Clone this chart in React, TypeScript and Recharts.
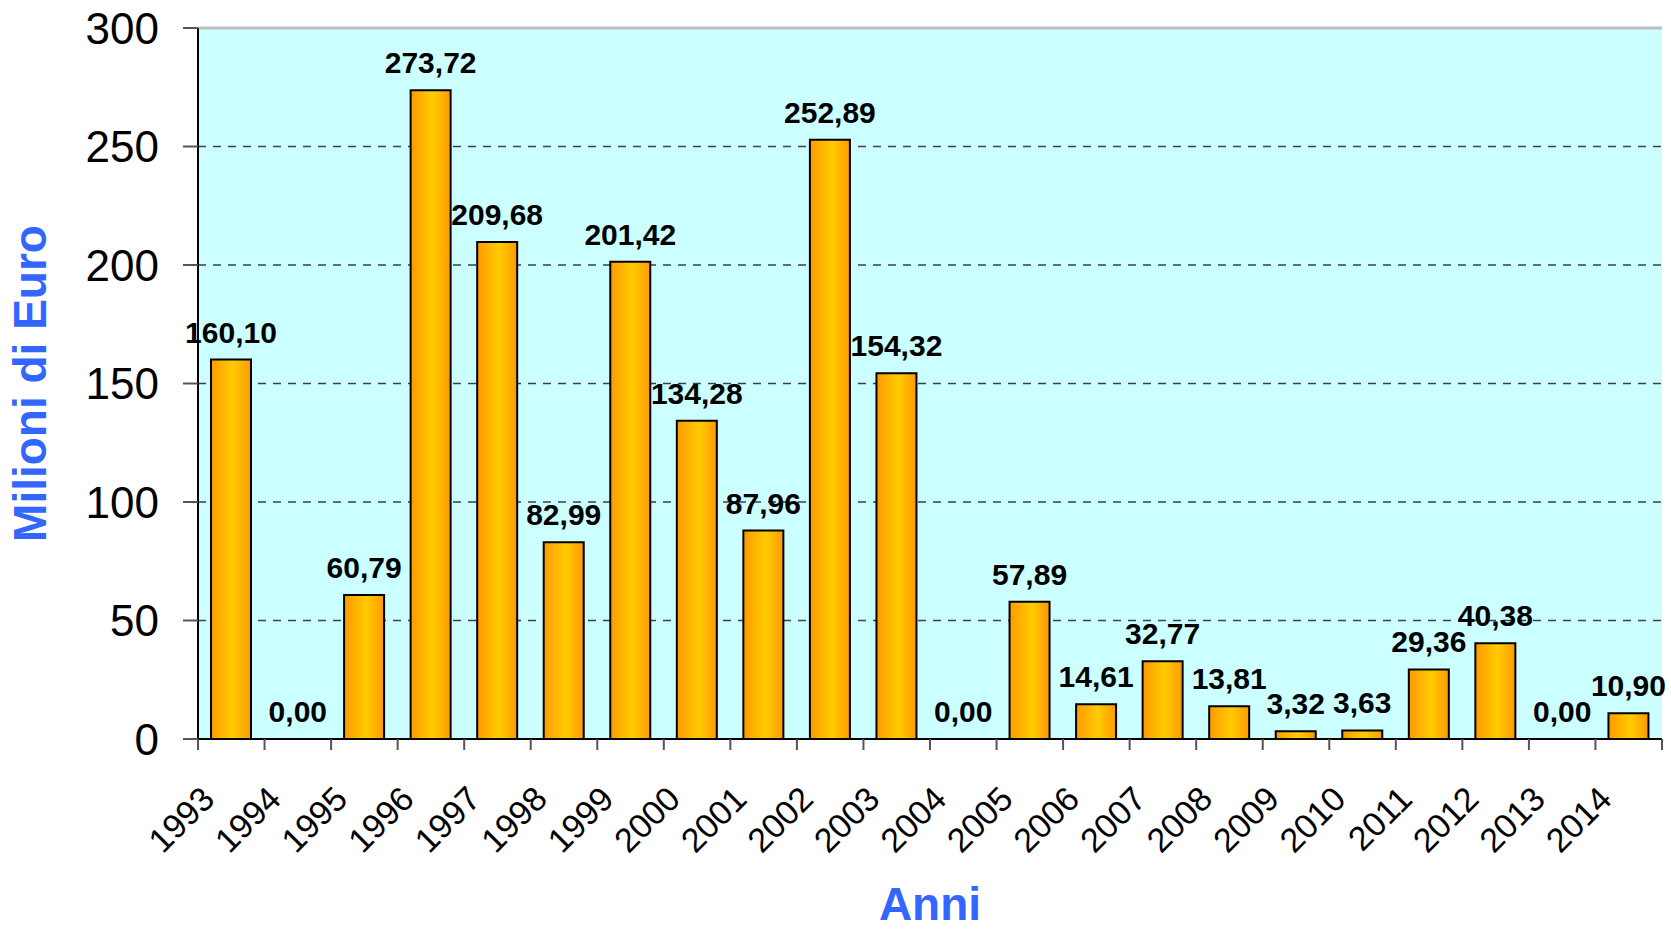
import React from 'react';
import {
  Bar,
  BarChart,
  CartesianGrid,
  LabelList,
  ReferenceDot,
  ReferenceLine,
  XAxis,
  YAxis,
} from 'recharts';

document.body.style.margin = '0';

const years = [
  '1993', '1994', '1995', '1996', '1997', '1998', '1999', '2000', '2001', '2002', '2003',
  '2004', '2005', '2006', '2007', '2008', '2009', '2010', '2011', '2012', '2013', '2014',
];
const values = [
  160.1, 0, 60.79, 273.72, 209.68, 82.99, 201.42, 134.28, 87.96, 252.89, 154.32,
  0, 57.89, 14.61, 32.77, 13.81, 3.32, 3.63, 29.36, 40.38, 0, 10.9,
];
const yTicks = [0, 50, 100, 150, 200, 250, 300];
const gridValues = [50, 100, 150, 200, 250];

const data = years.map((year, i) => ({ year, value: values[i] }));
// recharts skips labels on zero-height bars, so those get a reference dot label
const zeroYears = data.filter((d) => d.value === 0);

const FONT = '"Liberation Sans", Arial, sans-serif';
const BLUE = '#3366FF';
const labelStyle = { fontFamily: FONT, fontWeight: 'bold', fontSize: 30, fill: '#000' };

const formatValue = (v: number) => v.toFixed(2).replace('.', ',');

function YearTick(props: any) {
  const { x, y, payload, index, visibleTicksCount, width } = props;
  const half = payload?.offset ?? width / visibleTicksCount / 2;
  const isLast = index === visibleTicksCount - 1;
  const lx = x - 15;
  const ly = y + 62;
  return (
    <g>
      <line x1={x - half} y1={y} x2={x - half} y2={y + 11} stroke="#555" strokeWidth={2} />
      {isLast && <line x1={x + half} y1={y} x2={x + half} y2={y + 11} stroke="#555" strokeWidth={2} />}
      <text
        x={lx}
        y={ly}
        textAnchor="end"
        transform={`rotate(-45, ${lx}, ${ly})`}
        fontFamily={FONT}
        fontSize={34}
        fill="#000"
      >
        {payload.value}
      </text>
    </g>
  );
}

export default function App() {
  return (
    <div style={{ width: 1671, height: 930, background: '#fff' }}>
      <BarChart
        width={1671}
        height={930}
        data={data}
        margin={{ top: 28, right: 9, left: 0, bottom: 0 }}
        barCategoryGap="38%"
      >
        <defs>
          <linearGradient id="barFill" x1="0" y1="0" x2="1" y2="0">
            <stop offset="0%" stopColor="#FF9900" />
            <stop offset="55%" stopColor="#FFCC00" />
            <stop offset="100%" stopColor="#FF9900" />
          </linearGradient>
        </defs>
        <CartesianGrid
          vertical={false}
          horizontalValues={gridValues}
          fill="#CCFFFF"
          fillOpacity={1}
          stroke="#404040"
          strokeWidth={1.5}
          strokeDasharray="8 7"
        />
        <XAxis
          dataKey="year"
          height={191}
          interval={0}
          tickSize={0}
          tickMargin={0}
          tickLine={false}
          axisLine={{ stroke: '#000', strokeWidth: 2 }}
          tick={<YearTick />}
          label={{
            content: ({ viewBox }: any) => (
              <text
                x={viewBox.x + viewBox.width / 2}
                y={viewBox.y + 181}
                textAnchor="middle"
                fontFamily={FONT}
                fontWeight="bold"
                fontSize={46}
                fill={BLUE}
              >
                Anni
              </text>
            ),
          }}
        />
        <YAxis
          width={198}
          domain={[0, 300]}
          ticks={yTicks}
          interval={0}
          tickSize={15}
          tickMargin={24}
          tick={{ fontFamily: FONT, fontSize: 44, fill: '#000' }}
          tickLine={{ stroke: '#555', strokeWidth: 2 }}
          axisLine={{ stroke: '#000', strokeWidth: 2 }}
          label={{
            content: ({ viewBox }: any) => {
              const cx = 46;
              const cy = viewBox.y + viewBox.height / 2;
              return (
                <text
                  x={cx}
                  y={cy}
                  textAnchor="middle"
                  transform={`rotate(-90, ${cx}, ${cy})`}
                  fontFamily={FONT}
                  fontWeight="bold"
                  fontSize={46}
                  fill={BLUE}
                >
                  Milioni di Euro
                </text>
              );
            },
          }}
        />
        <YAxis
          yAxisId="right"
          orientation="right"
          width={0}
          domain={[0, 300]}
          tick={false}
          tickLine={false}
          axisLine={{ stroke: '#C0C0C0', strokeWidth: 3 }}
        />
        <ReferenceLine y={300} stroke="#C0C0C0" strokeWidth={3} />
        <Bar
          dataKey="value"
          fill="url(#barFill)"
          stroke="#000"
          strokeWidth={2}
          barSize={40}
          isAnimationActive={false}
        >
          <LabelList
            dataKey="value"
            position="top"
            offset={17}
            formatter={(v: any) => formatValue(Number(v))}
            style={labelStyle}
          />
        </Bar>
        {zeroYears.map((d) => (
          <ReferenceDot
            key={d.year}
            x={d.year}
            y={d.value}
            r={0}
            fill="none"
            stroke="none"
            label={{ value: formatValue(d.value), position: 'top', offset: 17, style: labelStyle }}
          />
        ))}
      </BarChart>
    </div>
  );
}
